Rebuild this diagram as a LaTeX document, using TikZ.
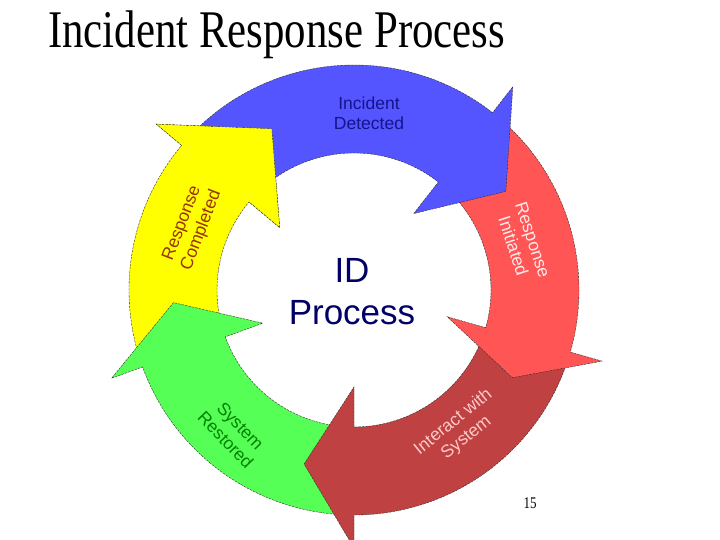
\documentclass[tikz,border=0pt]{standalone}
\usepackage{fontspec}
\setmainfont{Liberation Serif}
\newfontfamily\arialf{Liberation Sans}
\definecolor{cblue}{RGB}{85,85,255}
\definecolor{cred}{RGB}{255,85,85}
\definecolor{cdred}{RGB}{192,65,65}
\definecolor{cgreen}{RGB}{85,255,85}
\definecolor{cyellow}{RGB}{255,255,0}
\definecolor{tblue}{RGB}{20,20,140}
\definecolor{tred}{RGB}{255,235,235}
\definecolor{tdred}{RGB}{255,200,200}
\definecolor{tgreen}{RGB}{0,130,0}
\definecolor{tyellow}{RGB}{153,51,0}
\definecolor{tcenter}{RGB}{0,0,102}
\def\ROut{225}
\def\RIn{137}
\def\RMid{181}
\def\RBOut{258}
\def\RBIn{97}
\tikzset{
  outline/.style={draw=black!85, line width=0.35pt, dash pattern=on 2.5pt off 1pt},
  lbl/.style={font=\arialf\fontsize{17.5}{20.5}\selectfont, align=center, inner sep=0pt},
}
\newcommand{\ringarrow}[4]{%
  \path[outline, fill=#4] (#1:\ROut) arc[start angle=#1, end angle=#2, radius=\ROut]
    -- (#2:\RBOut) -- (#3:\RMid) -- (#2:\RBIn) -- (#2:\RIn)
    arc[start angle=#2, end angle=#1, radius=\RIn] -- cycle;%
}
\begin{document}
\begin{tikzpicture}[x=1pt,y=1pt]
\useasboundingbox[fill=white] (0,0) rectangle (720,-540);
\node[anchor=base west, inner sep=0pt] (title) at (48,-48)
  {\scalebox{1.02}[1.26]{\fontsize{42}{48}\selectfont Incident Response Process}};
\begin{scope}[shift={(354,-290)}]
  \ringarrow{198}{140}{117}{cyellow}
  \ringarrow{268}{200}{184}{cgreen}
  \ringarrow{-18}{-90}{-106}{cdred}
  \ringarrow{50}{-16}{-29}{cred}
  \ringarrow{138}{52}{33}{cblue}
  % yellow head on top of blue tail
  \fill[cyellow] (140:\ROut) -- (140:\RBOut) -- (117:\RMid) -- (140:\RBIn) -- (140:\RIn) -- cycle;
  \draw[outline] (140:\ROut) -- (140:\RBOut) -- (117:\RMid) -- (140:\RBIn) -- (140:\RIn);
\end{scope}
\node[lbl, text=tblue] (detected) at (369,-113) {Incident\\Detected};
\node[lbl, text=tred, rotate=-72] (initiated) at (523,-243) {Response\\Initiated};
\node[lbl, text=tdred, rotate=39] (interact) at (460,-430) {Interact with\\System};
\node[lbl, text=tgreen, rotate=-46] (restored) at (233,-433) {System\\Restored};
\node[lbl, text=tyellow, rotate=69] (completed) at (192,-227) {Response\\Completed};
\node[font=\arialf\fontsize{35}{42}\selectfont, text=tcenter, align=center, inner sep=0pt] (idp) at (352,-292) {ID\\Process};
\node[inner sep=0pt] (pagenum) at (530,-503) {\scalebox{1}[1.25]{\fontsize{13}{15}\selectfont 15}};
\end{tikzpicture}
\end{document}
